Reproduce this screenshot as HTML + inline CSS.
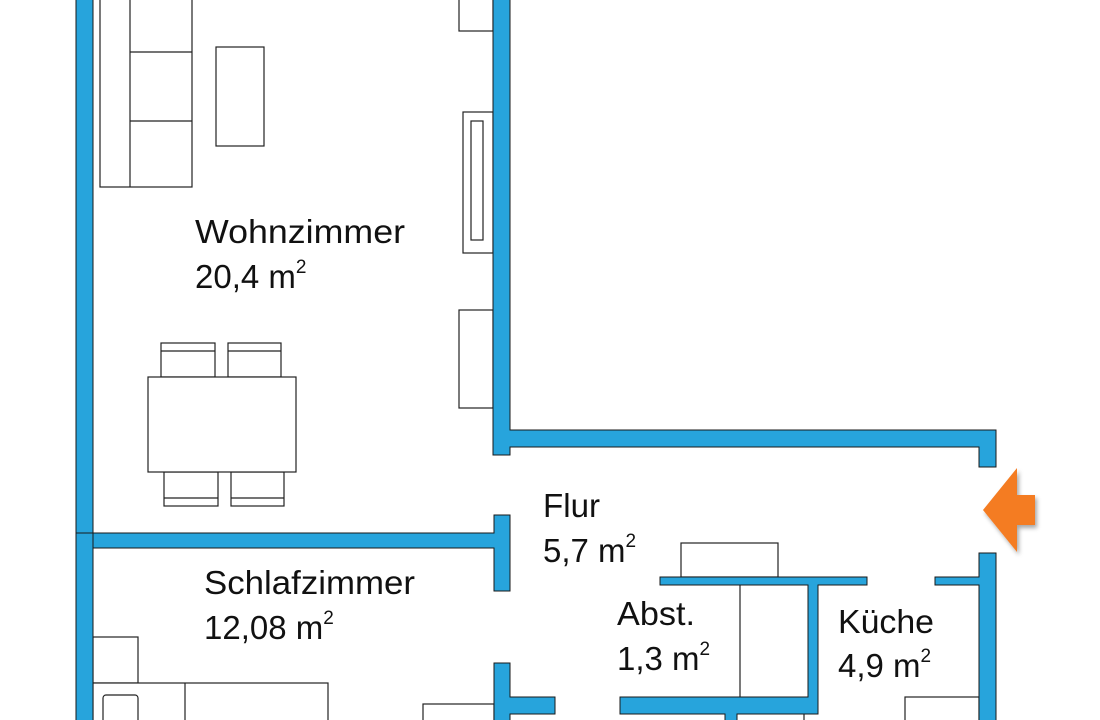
<!DOCTYPE html>
<html><head><meta charset="utf-8"><style>
html,body{margin:0;padding:0;background:#fff;width:1100px;height:720px;overflow:hidden}
svg{display:block}
text{font-family:"Liberation Sans",sans-serif;fill:#111}
</style></head><body>
<svg width="1100" height="720" viewBox="0 0 1100 720" xmlns="http://www.w3.org/2000/svg">
<defs>
<filter id="sh" x="-30%" y="-30%" width="160%" height="160%"><feDropShadow dx="2" dy="3" stdDeviation="2" flood-color="#000" flood-opacity="0.35"/></filter>
</defs>
<g fill="#fff" stroke="#222" stroke-width="1.2">
<!-- Wohnzimmer furniture -->
<rect x="100" y="-2" width="92" height="189"/>
<line x1="130" y1="0" x2="130" y2="187"/>
<line x1="130" y1="52" x2="192" y2="52"/>
<line x1="130" y1="121" x2="192" y2="121"/>
<rect x="216" y="47" width="48" height="99"/>
<rect x="459" y="-2" width="34" height="33"/>
<rect x="463" y="112" width="30" height="141"/>
<rect x="471" y="121" width="12" height="119"/>
<rect x="459" y="310" width="34" height="98"/>
<rect x="161" y="343" width="54" height="34"/>
<line x1="161" y1="351" x2="215" y2="351"/>
<rect x="228" y="343" width="53" height="34"/>
<line x1="228" y1="351" x2="281" y2="351"/>
<rect x="164" y="472" width="54" height="34"/>
<line x1="164" y1="498" x2="218" y2="498"/>
<rect x="231" y="472" width="53" height="34"/>
<line x1="231" y1="498" x2="284" y2="498"/>
<rect x="148" y="377" width="148" height="95"/>
<!-- Schlafzimmer furniture -->
<rect x="93" y="637" width="45" height="46"/>
<rect x="93" y="683" width="235" height="40"/>
<line x1="185" y1="683" x2="185" y2="720"/>
<rect x="103" y="695" width="35" height="30" rx="3"/>
<rect x="423" y="704" width="71" height="20"/>
<!-- Flur / Abst / Küche -->
<rect x="681" y="543" width="97" height="34"/>
<line x1="740" y1="585" x2="740" y2="697"/>
<line x1="804" y1="714" x2="804" y2="722"/>
<rect x="905" y="697" width="74" height="26"/>
</g>
<g fill="#27a4dc" stroke="#1a1a1a" stroke-width="1">
<rect x="76" y="-2" width="17" height="724"/>
<path d="M493,-2 H510 V430 H996 V467 H979 V447 H510 V455 H493 Z"/>
<path d="M76,533 H494 V515 H510 V591 H494 V548 H93 V533 Z"/>
<path d="M494,663 H510 V697 H555 V714 H510 V722 H494 Z"/>
<path d="M660,577 H867 V585 H818 V714 H737 V722 H725 V714 H620 V697 H808 V585 H660 Z"/>
<path d="M979,553 H996 V722 H979 V585 H935 V577 H979 Z"/>
</g>
<path d="M983,510 L1017,468 L1017,495 L1035,495 L1035,525 L1017,525 L1017,552 Z" fill="#f47b20" filter="url(#sh)"/>
<g font-size="33">
<text x="195" y="243" textLength="210" lengthAdjust="spacingAndGlyphs">Wohnzimmer</text>
<text x="195" y="288">20,4 m<tspan font-size="19" dy="-15">2</tspan></text>
<text x="543" y="517" textLength="57" lengthAdjust="spacingAndGlyphs">Flur</text>
<text x="543" y="562">5,7 m<tspan font-size="19" dy="-15">2</tspan></text>
<text x="204" y="594" textLength="211" lengthAdjust="spacingAndGlyphs">Schlafzimmer</text>
<text x="204" y="639">12,08 m<tspan font-size="19" dy="-15">2</tspan></text>
<text x="617" y="625" textLength="78" lengthAdjust="spacingAndGlyphs">Abst.</text>
<text x="617" y="670">1,3 m<tspan font-size="19" dy="-15">2</tspan></text>
<text x="838" y="633" textLength="96" lengthAdjust="spacingAndGlyphs">Küche</text>
<text x="838" y="677">4,9 m<tspan font-size="19" dy="-15">2</tspan></text>
</g>
</svg>
</body></html>
